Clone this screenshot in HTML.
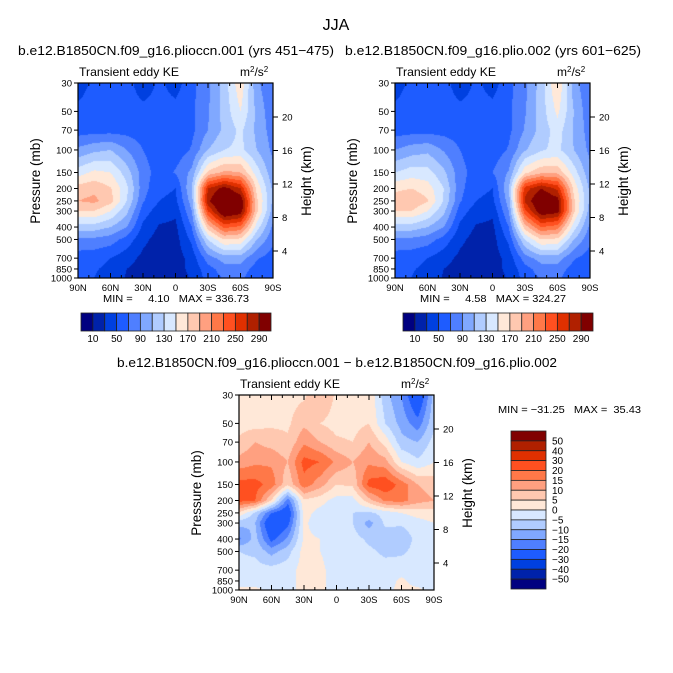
<!DOCTYPE html>
<html><head><meta charset="utf-8">
<style>
body{margin:0;background:#fff;font-family:"Liberation Sans",sans-serif;}
#root{position:relative;width:673px;height:673px;overflow:hidden;}
canvas{position:absolute;left:0;top:0;}
svg{position:absolute;left:0;top:0;}
text{font-family:"Liberation Sans",sans-serif;fill:#000;white-space:pre;}
</style></head>
<body>
<div id="root">
<canvas id="cv" width="673" height="673"></canvas>
<svg id="sv" width="673" height="673"></svg>
</div>
<script>
const latLabels=["90N","60N","30N","0","30S","60S","90S"];
const pLevels=[30,50,70,100,150,200,250,300,400,500,700,850,1000];
const heightTicks=[4,8,12,16,20];
const keLevels=[10,30,50,70,90,110,130,150,170,190,210,230,250,270,290];
const keLabels=["10","50","90","130","170","210","250","290"];
const diffLevels=[-50,-40,-30,-20,-15,-10,-5,0,5,10,15,20,30,40,50];
const diffLabels=["50","40","30","20","15","10","5","0","\u22125","\u221210","\u221215","\u221220","\u221230","\u221240","\u221250"];
const palette=["#000080","#0022aa","#0040e0","#1e5cff","#4f7fff","#80a8ff","#b0ccff","#d8e8ff","#ffe8d8","#ffc8b0","#ffa080","#ff7848","#ff5020","#e03000","#b02000","#800000"];
// rows = pressure levels (30..1000), cols = 90N..90S every 15 deg
const ke1=[
[40,55,60,60,35,55,40,65,85,120,165,95,70],
[55,60,62,62,58,58,58,65,88,118,150,105,75],
[60,62,62,62,60,56,56,65,90,115,135,105,80],
[95,105,110,90,70,58,58,72,110,130,135,110,85],
[140,155,150,120,80,60,72,95,175,195,190,140,95],
[180,185,172,135,78,55,50,110,270,300,270,165,105],
[190,195,178,130,72,50,45,100,285,330,310,175,105],
[170,170,150,115,60,40,35,90,250,320,305,175,100],
[120,120,110,90,45,28,25,70,180,235,225,140,85],
[85,85,80,62,35,22,22,55,130,170,165,110,75],
[60,58,50,38,25,20,20,38,80,100,100,72,60],
[55,52,45,30,22,20,22,35,62,80,80,62,55],
[52,50,42,28,20,18,20,32,58,72,75,55,50]];
const ke2=[
[40,55,60,60,35,55,40,65,85,120,170,100,70],
[55,60,62,62,58,58,58,65,88,120,155,110,75],
[60,62,62,62,60,56,56,65,92,118,140,108,80],
[90,100,105,88,70,58,58,72,108,128,135,110,85],
[130,140,138,115,78,60,70,92,165,185,185,140,95],
[165,170,160,130,76,55,50,108,260,290,265,165,105],
[182,188,172,128,72,50,45,100,275,318,300,175,105],
[170,170,150,115,60,40,35,90,245,310,300,175,100],
[120,120,110,90,45,28,25,70,180,230,220,140,85],
[85,85,80,62,35,22,22,55,130,170,165,110,75],
[60,58,50,38,25,20,20,38,80,100,100,72,60],
[55,52,45,30,22,20,22,35,62,80,80,62,55],
[52,50,42,28,20,18,20,32,58,72,75,55,50]];
const diff=[
[3,3,3,3,4,10,4,3,4,-8,-15,-28,-8],
[3,3,4,4,9,5,3,3,5,-5,-12,-18,-6],
[6,10,8,6,14,10,6,5,10,3,-8,-10,-3],
[12,14,14,10,22,20,14,10,14,12,0,-4,0],
[22,22,18,6,18,12,5,6,22,24,18,10,8],
[22,20,5,-18,4,2,-2,-2,8,16,17,12,10],
[4,-6,-20,-26,2,-2,-4,-5,-6,-3,0,2,3],
[-8,-10,-28,-22,1,-3,-2,-5,-12,-4,-4,-2,0],
[-16,-8,-22,-14,1,0,-2,-3,-6,-8,-9,-3,-2],
[-5,-6,-12,-7,2,0,-2,-3,-4,-6,-6,-3,-2],
[-3,-3,-3,-2,2,1,-2,-2,-3,-3,-2,-2,-1],
[-2,-2,-2,-2,2,1,-2,-2,-2,-2,1,-2,-2],
[1,1,-1,-2,2,1,-2,-2,-2,-1,1,1,-2]];

const W=195,H=195;
const lnTop=Math.log(30),lnBot=Math.log(1000);
function yOfP(p,top){return top+H*(Math.log(p)-lnTop)/(lnBot-lnTop);}
function hexRGB(h){return [parseInt(h.substr(1,2),16),parseInt(h.substr(3,2),16),parseInt(h.substr(5,2),16)];}
const palRGB=palette.map(hexRGB);
function colorIdx(v,lev){let i=0;while(i<lev.length&&v>=lev[i])i++;return i;}
const ctx=document.getElementById('cv').getContext('2d');
const lnP=pLevels.map(Math.log);
function sample(grid,fx,lp){
  let c=fx*12;let c0=Math.min(11,Math.floor(c));let tc=c-c0;
  let r0=0;while(r0<11&&lp>lnP[r0+1])r0++;
  let tr=(lp-lnP[r0])/(lnP[r0+1]-lnP[r0]);tr=Math.max(0,Math.min(1,tr));
  const a=grid[r0][c0],b=grid[r0][c0+1],d=grid[r0+1][c0],e=grid[r0+1][c0+1];
  return (a*(1-tc)+b*tc)*(1-tr)+(d*(1-tc)+e*tc)*tr;
}
function drawField(x0,y0,grid,lev){
  const img=ctx.createImageData(W,H);
  for(let j=0;j<H;j++){
    const lp=lnTop+(lnBot-lnTop)*(j+0.5)/H;
    for(let i=0;i<W;i++){
      const v=sample(grid,(i+0.5)/W,lp);
      const c=palRGB[colorIdx(v,lev)];
      const k=(j*W+i)*4;img.data[k]=c[0];img.data[k+1]=c[1];img.data[k+2]=c[2];img.data[k+3]=255;
    }
  }
  ctx.putImageData(img,x0,y0);
}
const NS="http://www.w3.org/2000/svg";
const sv=document.getElementById('sv');
function el(tag,attrs,parent){const e=document.createElementNS(NS,tag);for(const k in attrs)e.setAttribute(k,attrs[k]);(parent||sv).appendChild(e);return e;}
function txt(x,y,s,size,anchor,parent){const t=el('text',{x:x,y:y,'font-size':size,'text-anchor':anchor||'start'},parent);t.textContent=s;return t;}

function axes(x0,y0,name,title,titleLen){
  const g=el('g',{});
  
  
  el('rect',{x:x0,y:y0,width:W,height:H,fill:'none',stroke:'#000','stroke-width':1.2},g);
  const tt=txt(x0+98,y0-28,title,13,'middle',g);
  tt.setAttribute('textLength',titleLen);
  tt.setAttribute('lengthAdjust','spacingAndGlyphs');
  
  
  const st=txt(x0+1,y0-7,"Transient eddy KE",12,'start',g);
  st.setAttribute('textLength',100);
  st.setAttribute('lengthAdjust','spacingAndGlyphs');
  const u=txt(x0+W-33,y0-7,"m",12,'start',g);
  const s1=el('tspan',{dy:-4,'font-size':8},u);s1.textContent="2";
  const s2=el('tspan',{dy:4},u);s2.textContent="/s";
  const s3=el('tspan',{dy:-4,'font-size':8},u);s3.textContent="2";
  latLabels.forEach((l,i)=>{
    const x=x0+W*i/6;
    el('line',{x1:x,y1:y0+H,x2:x,y2:y0+H-5,stroke:'#000'},g);
    el('line',{x1:x,y1:y0,x2:x,y2:y0+5,stroke:'#000'},g);
    txt(x,y0+H+13,l,9.5,'middle',g);
  });
  for(let k=1;k<18;k++){const x=x0+W*k/18;
    el('line',{x1:x,y1:y0+H,x2:x,y2:y0+H-3,stroke:'#000'},g);
    el('line',{x1:x,y1:y0,x2:x,y2:y0+3,stroke:'#000'},g);}
  pLevels.forEach(p=>{
    const y=yOfP(p,y0);
    el('line',{x1:x0-4,y1:y,x2:x0,y2:y,stroke:'#000'},g);
    txt(x0-6,y+3.5,String(p),9.5,'end',g);
  });
  heightTicks.forEach(h=>{
    const y=y0+34+(20-h)*8.375;
    el('line',{x1:x0+W,y1:y,x2:x0+W+5,y2:y,stroke:'#000'},g);
    txt(x0+W+9,y+3.5,String(h),9.5,'start',g);
  });
  const yl=txt(0,0,"Pressure (mb)",13.5,'middle',g);
  yl.setAttribute('transform',`translate(${x0-38},${y0+98}) rotate(-90)`);
  const hl=txt(0,0,"Height (km)",13.5,'middle',g);
  hl.setAttribute('transform',`translate(${x0+W+38},${y0+98}) rotate(-90)`);
}
function hbar(x0,y0,name){
  const g=el('g',{});
  
  
  const w=190/16;
  palette.forEach((c,i)=>el('rect',{x:x0+i*w,y:y0,width:w,height:18,fill:c,stroke:'#222','stroke-width':0.8},g));
  keLabels.forEach((l,i)=>txt(x0+w*(1+2*i),y0+29,l,10,'middle',g));
}
txt(336,30,"JJA",16,'middle');
drawField(78,83,ke1,keLevels);
drawField(395,83,ke2,keLevels);
drawField(239,395,diff,diffLevels);
axes(78,83,'plot-pliocnn-001',"b.e12.B1850CN.f09_g16.plioccn.001 (yrs 451\u2212475)",316);
axes(395,83,'plot-plio-002',"b.e12.B1850CN.f09_g16.plio.002 (yrs 601\u2212625)",296);
axes(239,395,'plot-difference',"b.e12.B1850CN.f09_g16.plioccn.001 \u2212 b.e12.B1850CN.f09_g16.plio.002",440);
function minmax(x,s,len){const t=txt(x,302,s,10.5,'middle');t.setAttribute('textLength',len);t.setAttribute('lengthAdjust','spacingAndGlyphs');}
minmax(176,"MIN =     4.10   MAX = 336.73",146);
minmax(493,"MIN =     4.58   MAX = 324.27",146);
(function(){const t=txt(498,413,"MIN = \u221231.25   MAX =  35.43",10.5,'start');t.setAttribute('textLength',143);t.setAttribute('lengthAdjust','spacingAndGlyphs');})();
hbar(81,313,'colorbar-left');
hbar(403,313,'colorbar-right');
(function(){
  const g=el('g',{});
  
  
  const h=158/16, x0=511, y0=431;
  for(let i=0;i<16;i++){
    el('rect',{x:x0,y:y0+i*h,width:35,height:h,fill:palette[15-i],stroke:'#222','stroke-width':0.8},g);
  }
  diffLabels.forEach((l,i)=>txt(x0+41,y0+h*(i+1)+3.5,l,10,'start',g));
})();
</script>
</body></html>
